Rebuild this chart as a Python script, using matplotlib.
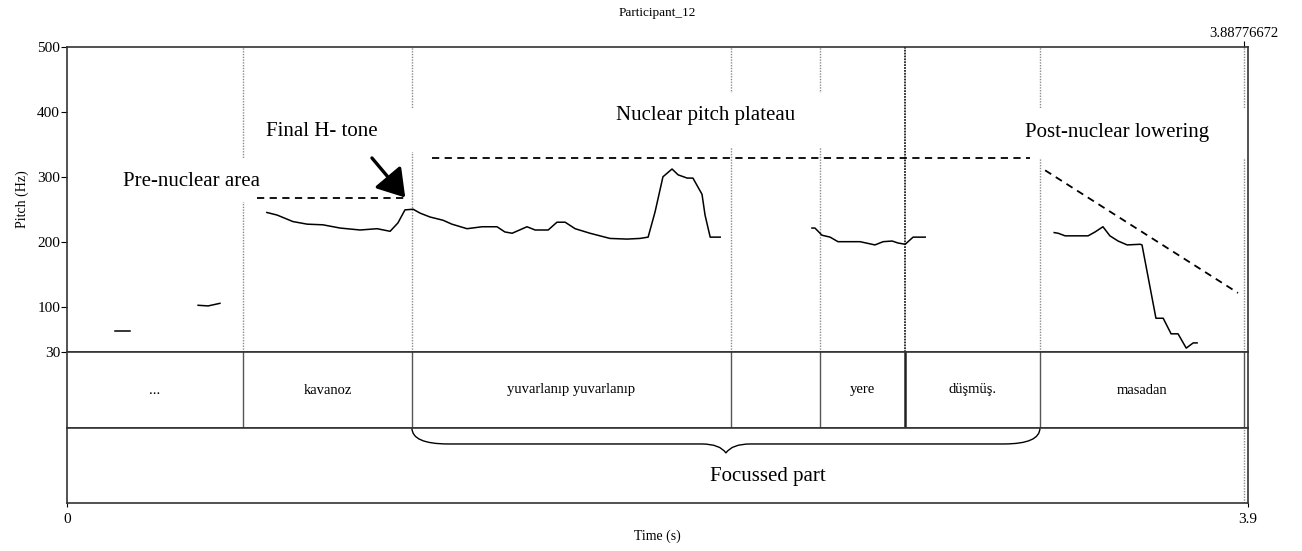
import matplotlib.pyplot as plt
from matplotlib.patches import Rectangle, PathPatch
from matplotlib.path import Path

plt.rcParams['font.family'] = ['Liberation Serif', 'DejaVu Serif']

# word tier: interval edges (s) and labels
edges = [0.0, 0.581, 1.139, 2.193, 2.487, 2.768, 3.213, 3.88776672]
words = ["...", "kavanoz", "yuvarlanıp yuvarlanıp", "", "yere", "düşmüş.", "masadan"]
t_end = 3.88776672
t_max = 3.9

# pitch contour pieces (time s, f0 Hz)
seg1_t = [0.158, 0.208]
seg1_f = [63, 63]
seg2_t = [0.433, 0.466, 0.505]
seg2_f = [102, 101, 105]
seg3_t = [0.660, 0.694, 0.746, 0.793, 0.845, 0.902, 0.968, 1.024, 1.067, 1.093,
          1.116, 1.143, 1.166, 1.199, 1.242, 1.271, 1.321, 1.371, 1.420, 1.446,
          1.470, 1.519, 1.546, 1.589, 1.618, 1.645, 1.678, 1.727, 1.793, 1.849,
          1.892, 1.919, 1.942, 1.968, 1.998, 2.018, 2.048, 2.067, 2.097, 2.107,
          2.124, 2.157]
seg3_f = [245, 241, 231, 227, 226, 221, 218, 220, 216, 229,
          249, 250, 244, 238, 233, 227, 220, 223, 223, 215,
          213, 223, 218, 218, 230, 230, 220, 213, 205, 204,
          205, 207, 246, 300, 312, 303, 298, 298, 273, 241,
          207, 207]
seg4_t = [2.460, 2.470, 2.493, 2.520, 2.546, 2.576, 2.619, 2.668, 2.695, 2.725,
          2.744, 2.768, 2.794, 2.834]
seg4_f = [221, 221, 210, 207, 200, 200, 200, 195, 200, 201,
          198, 196, 207, 207]
seg5_t = [3.260, 3.273, 3.296, 3.336, 3.372, 3.395, 3.421, 3.444, 3.471, 3.501,
          3.544, 3.550, 3.596, 3.620, 3.646, 3.669, 3.696, 3.719, 3.732]
seg5_f = [214, 213, 209, 209, 209, 215, 223, 209, 201, 195,
          196, 195, 82, 82, 58, 58, 36, 44, 44]

# stylised pitch targets
pre_t, pre_f = [0.627, 1.116], [267, 267]
plateau_t, plateau_f = [1.205, 3.180], [329, 329]
lower_t, lower_f = [3.230, 3.867], [310, 121]

fig = plt.figure(figsize=(13.02, 5.51), dpi=100)
left, width = 67 / 1302, (1248 - 67) / 1302
ax = fig.add_axes([left, 1 - 352 / 551, width, 305 / 551])
ax_w = fig.add_axes([left, 1 - 428 / 551, width, 76 / 551])
ax_f = fig.add_axes([left, 1 - 503 / 551, width, 75 / 551])
for a in (ax, ax_w, ax_f):
    a.set_xlim(0, t_max)

ax.set_ylim(30, 500)

# interval boundaries in the pitch panel
for b in edges[1:]:
    if abs(b - 2.768) < 1e-6:
        continue
    ax.axvline(b, color='#8c8c8c', lw=1.0, ls=(0, (1, 1)), zorder=1)
ax.axvline(2.768, color='#222222', lw=1.3, ls=(0, (1, 0.6)), zorder=2.5)

# white boxes behind the annotation labels
for x0, x1, y0, y1 in [(0.142, 0.604, 261, 329), (0.604, 1.150, 338, 406),
                       (1.166, 3.080, 344, 429), (3.147, 3.899, 329, 406)]:
    ax.add_patch(Rectangle((x0, y0), x1 - x0, y1 - y0, facecolor='white',
                           edgecolor='none', zorder=2))

for tt, ff in [(seg1_t, seg1_f), (seg2_t, seg2_f), (seg3_t, seg3_f),
               (seg4_t, seg4_f), (seg5_t, seg5_f)]:
    ax.plot(tt, ff, color='black', lw=1.1, zorder=3)

for tt, ff in [(pre_t, pre_f), (plateau_t, plateau_f), (lower_t, lower_f)]:
    ax.plot(tt, ff, color='black', lw=1.3, ls=(0, (4, 3)), zorder=3)

ax.annotate('', xy=(1.117, 268), xytext=(1.007, 329),
            arrowprops=dict(arrowstyle='-|>,head_length=0.55,head_width=0.35',
                            lw=2.4, color='black', mutation_scale=30,
                            shrinkA=0, shrinkB=0), zorder=4)

lab = dict(fontsize=15, ha='center', va='center', zorder=4)
ax.text(0.41, 292, "Pre-nuclear area", **lab)
ax.text(0.840, 370, "Final H- tone", **lab)
ax.text(2.110, 395, "Nuclear pitch plateau", **lab)
ax.text(3.468, 369, "Post-nuclear lowering", **lab)

ax.set_yticks([30, 100, 200, 300, 400, 500])
ax.tick_params(axis='y', labelsize=11, length=4, width=0.8, pad=1)
ax.set_ylabel("Pitch (Hz)", fontsize=10, labelpad=6)
ax.xaxis.tick_top()
ax.set_xticks([t_end])
ax.set_xticklabels(["3.88776672"])
ax.tick_params(axis='x', labelsize=10.5, length=4, width=0.8, pad=1)

# word tier
for b in edges[1:]:
    dark = abs(b - 2.768) < 1e-6
    ax_w.axvline(b, color='#222222' if dark else '#555555',
                 lw=1.8 if dark else 1.0, zorder=1)
for a, b, w in zip(edges[:-1], edges[1:], words):
    ax_w.text((a + b) / 2, 0.5, w, fontsize=10.5, ha='center', va='center')
ax_w.set_ylim(0, 1)
ax_w.set_yticks([])
ax_w.set_xticks([])

# focus tier with brace over the focussed stretch
ax_f.set_ylim(0, 1)
ax_f.set_yticks([])
ax_f.axvline(t_end, color='#8c8c8c', lw=1.0, ls=(0, (1, 1)))
bx0, bx1 = edges[2], edges[6]
bm = (bx0 + bx1) / 2
yh, ytip = 0.787, 0.667
verts = [(bx0, 1.0), (bx0, yh), (bx0 + 0.12, yh),
         (bm - 0.08, yh),
         (bm - 0.02, yh), (bm, ytip),
         (bm + 0.02, yh), (bm + 0.08, yh),
         (bx1 - 0.12, yh),
         (bx1, yh), (bx1, 1.0)]
codes = [Path.MOVETO, Path.CURVE3, Path.CURVE3,
         Path.LINETO,
         Path.CURVE3, Path.CURVE3,
         Path.CURVE3, Path.CURVE3,
         Path.LINETO,
         Path.CURVE3, Path.CURVE3]
ax_f.add_patch(PathPatch(Path(verts, codes), facecolor='none',
                         edgecolor='black', lw=1.0))
ax_f.text(2.315, 0.35, "Focussed part", fontsize=15, ha='center', va='center')
ax_f.set_xticks([0, t_max])
ax_f.set_xticklabels(["0", "3.9"])
ax_f.tick_params(axis='x', labelsize=11, length=3, width=0.8, pad=4)
ax_f.set_xlabel("Time (s)", fontsize=10, labelpad=3)

for a in (ax, ax_w, ax_f):
    for s in a.spines.values():
        s.set_color('#333333')
        s.set_linewidth(1.2)

fig.text(657 / 1302, 1 - 13 / 551, "Participant_12", fontsize=9.5,
         ha='center', va='center')

fig.savefig('out.png', dpi=100)
